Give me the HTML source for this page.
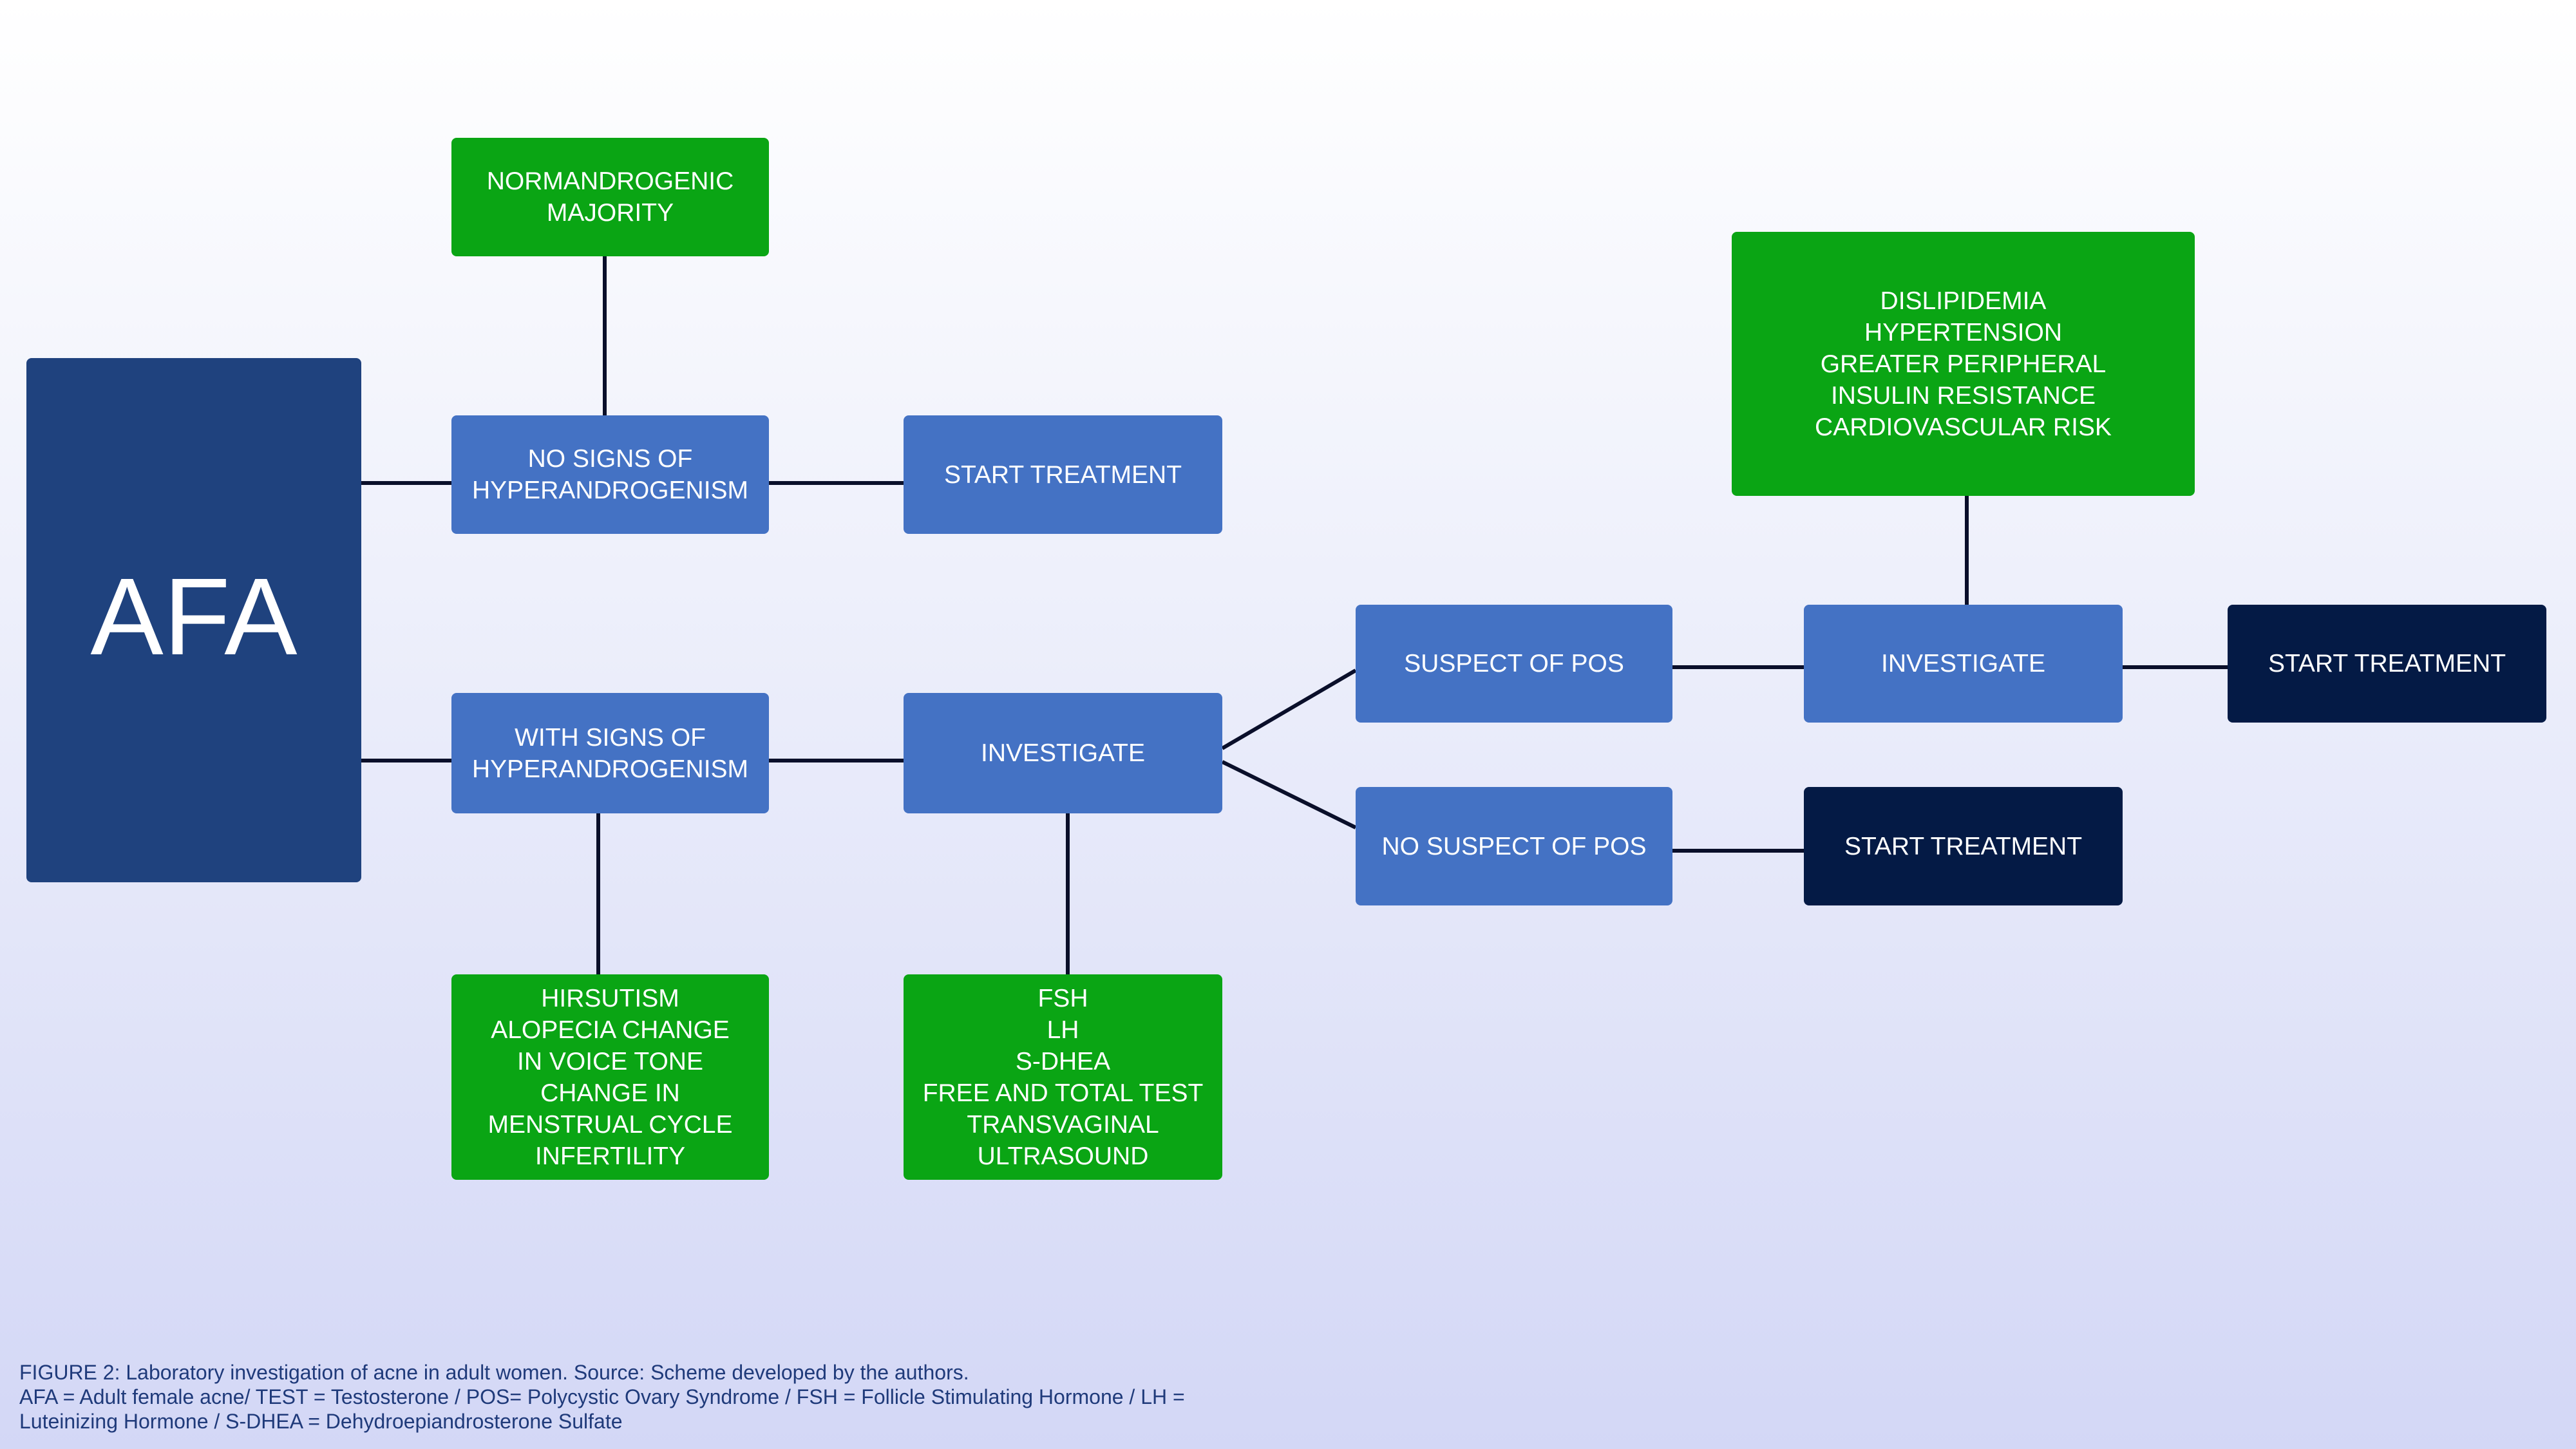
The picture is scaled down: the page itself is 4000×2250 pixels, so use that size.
<!DOCTYPE html>
<html><head><meta charset="utf-8"><style>
html,body{margin:0;padding:0}
body{width:4000px;height:2250px;position:relative;overflow:hidden;background:linear-gradient(#ffffff 0%,#eef0fb 40%,#d3d7f6 100%);font-family:"Liberation Sans",sans-serif}
.b{position:absolute;display:flex;align-items:center;justify-content:center;text-align:center;color:#fff;font-size:39px;line-height:49px;border-radius:8px;box-sizing:border-box;padding-bottom:0px}
.bl{background:#4472c4}.g{background:#0aa514}.d{background:#041a45}
svg{position:absolute;left:0;top:0}
.cap{position:absolute;left:30px;top:2112px;color:#1f3a7a;font-size:32px;line-height:38px}
</style></head><body>
<svg width="4000" height="2250"><g stroke="#0a0f2a" stroke-width="6" fill="none">
<line x1="561" y1="750" x2="701" y2="750"/>
<line x1="561" y1="1181" x2="701" y2="1181"/>
<line x1="939" y1="398" x2="939" y2="645"/>
<line x1="1194" y1="750" x2="1403" y2="750"/>
<line x1="1194" y1="1181" x2="1403" y2="1181"/>
<line x1="929" y1="1263" x2="929" y2="1513"/>
<line x1="1658" y1="1263" x2="1658" y2="1513"/>
<line x1="1898" y1="1162" x2="2105" y2="1041"/>
<line x1="1898" y1="1183" x2="2105" y2="1285"/>
<line x1="2597" y1="1036" x2="2801" y2="1036"/>
<line x1="2597" y1="1321" x2="2801" y2="1321"/>
<line x1="3296" y1="1036" x2="3459" y2="1036"/>
<line x1="3054" y1="770" x2="3054" y2="939"/>
</g></svg>
<div class="b" style="left:41px;top:556px;width:520px;height:814px;background:#1f427e;font-size:170px;line-height:165px;padding-bottom:10px">AFA</div>
<div class="b g" style="left:701px;top:214px;width:493px;height:184px">NORMANDROGENIC<br>MAJORITY</div>
<div class="b bl" style="left:701px;top:645px;width:493px;height:184px">NO SIGNS OF<br>HYPERANDROGENISM</div>
<div class="b bl" style="left:1403px;top:645px;width:495px;height:184px">START TREATMENT</div>
<div class="b bl" style="left:701px;top:1076px;width:493px;height:187px">WITH SIGNS OF<br>HYPERANDROGENISM</div>
<div class="b bl" style="left:1403px;top:1076px;width:495px;height:187px">INVESTIGATE</div>
<div class="b g" style="left:701px;top:1513px;width:493px;height:319px">HIRSUTISM<br>ALOPECIA CHANGE<br>IN VOICE TONE<br>CHANGE IN<br>MENSTRUAL CYCLE<br>INFERTILITY</div>
<div class="b g" style="left:1403px;top:1513px;width:495px;height:319px">FSH<br>LH<br>S-DHEA<br>FREE AND TOTAL TEST<br>TRANSVAGINAL<br>ULTRASOUND</div>
<div class="b bl" style="left:2105px;top:939px;width:492px;height:183px">SUSPECT OF POS</div>
<div class="b bl" style="left:2105px;top:1222px;width:492px;height:184px">NO SUSPECT OF POS</div>
<div class="b bl" style="left:2801px;top:939px;width:495px;height:183px">INVESTIGATE</div>
<div class="b g" style="left:2689px;top:360px;width:719px;height:410px">DISLIPIDEMIA<br>HYPERTENSION<br>GREATER PERIPHERAL<br>INSULIN RESISTANCE<br>CARDIOVASCULAR RISK</div>
<div class="b d" style="left:3459px;top:939px;width:495px;height:183px">START TREATMENT</div>
<div class="b d" style="left:2801px;top:1222px;width:495px;height:184px">START TREATMENT</div>
<div class="cap">FIGURE 2: Laboratory investigation of acne in adult women. Source: Scheme developed by the authors.<br>AFA = Adult female acne/ TEST = Testosterone / POS= Polycystic Ovary Syndrome / FSH = Follicle Stimulating Hormone / LH =<br>Luteinizing Hormone / S-DHEA = Dehydroepiandrosterone Sulfate</div>
</body></html>
